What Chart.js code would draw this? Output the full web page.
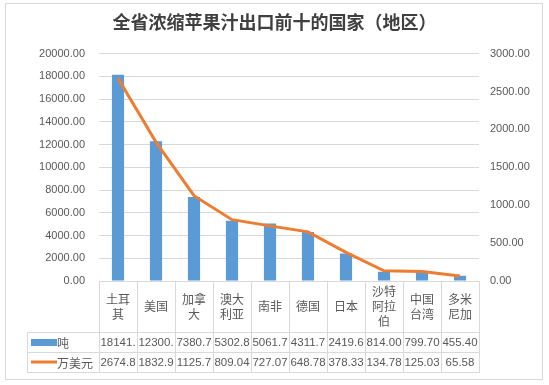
<!DOCTYPE html>
<html>
<head>
<meta charset="utf-8">
<script src="https://cdn.jsdelivr.net/npm/chart.js@4/dist/chart.umd.min.js"></script>
<style>
  html, body { margin: 0; padding: 0; background: #fff; }
  canvas { display: block; }
</style>
</head>
<body>
<canvas id="c" width="549" height="385"></canvas>
<script>
// 数据
const countries = [['土耳', '其'], ['美国'], ['加拿', '大'], ['澳大', '利亚'], ['南非'], ['德国'], ['日本'], ['沙特', '阿拉', '伯'], ['中国', '台湾'], ['多米', '尼加']];
const tons = [18141.0, 12300.0, 7380.7, 5302.8, 5061.7, 4311.7, 2419.6, 814.00, 799.70, 455.40];
const usd = [2674.8, 1832.9, 1125.7, 809.04, 727.07, 648.78, 378.33, 134.78, 125.03, 65.58];
const seriesNames = ['吨', '万美元'];
const titleText = '全省浓缩苹果汁出口前十的国家（地区）';

const blue = '#5B9BD5';
const orange = '#ED7D31';
const gridColor = '#D9D9D9';
const textColor = '#595959';
const latin = '"Liberation Sans", "Noto Sans CJK SC", sans-serif';
const cjk = '"Noto Sans CJK SC", "Liberation Sans", sans-serif';

Chart.defaults.font.family = latin;
Chart.defaults.color = textColor;

// 外框 + 数据表
const tablePlugin = {
  id: 'dataTable',
  beforeDraw(chart) {
    const ctx = chart.ctx;
    ctx.save();
    ctx.strokeStyle = gridColor;
    ctx.lineWidth = 1;
    ctx.strokeRect(5.5, 3.5, 537, 376);
    ctx.restore();
  },
  afterDraw(chart) {
    const ctx = chart.ctx;
    const area = chart.chartArea;
    const n = countries.length;
    const colW = (area.right - area.left) / n;
    const top = area.bottom;
    const headBottom = top + 51;
    const row1 = headBottom + 20;
    const row2 = row1 + 20;
    const legendLeft = 27;

    ctx.save();
    ctx.strokeStyle = gridColor;
    ctx.lineWidth = 1;
    const line = (x1, y1, x2, y2) => {
      ctx.beginPath();
      ctx.moveTo(Math.round(x1) + 0.5, Math.round(y1) + 0.5);
      ctx.lineTo(Math.round(x2) + 0.5, Math.round(y2) + 0.5);
      ctx.stroke();
    };
    line(area.left, top, area.right, top);
    [headBottom, row1, row2].forEach(y => line(legendLeft, y, area.right, y));
    line(legendLeft, headBottom, legendLeft, row2);
    for (let i = 0; i <= n; i++) {
      const x = area.left + i * colW;
      line(x, top, x, row2);
    }

    ctx.fillStyle = textColor;
    ctx.textAlign = 'center';
    ctx.textBaseline = 'middle';

    // 分类标签
    ctx.font = '12px ' + cjk;
    const headMid = (top + headBottom) / 2;
    countries.forEach((lines, i) => {
      const cx = area.left + (i + 0.5) * colW;
      const y0 = headMid - (lines.length - 1) * 15 / 2;
      lines.forEach((t, k) => ctx.fillText(t, cx, y0 + k * 15));
    });

    // 数值
    ctx.font = '11.5px ' + latin;
    const rows = [tons, usd];
    const mids = [(headBottom + row1) / 2, (row1 + row2) / 2];
    rows.forEach((vals, r) => {
      vals.forEach((v, i) => {
        const cx = area.left + (i + 0.5) * colW;
        ctx.fillText(v.toFixed(2).slice(0, 6), cx, mids[r] + 1);
      });
    });

    // 图例键
    ctx.fillStyle = blue;
    ctx.fillRect(31, mids[0] - 3, 26, 7);
    ctx.strokeStyle = orange;
    ctx.lineWidth = 3;
    ctx.beginPath();
    ctx.moveTo(31, mids[1]);
    ctx.lineTo(57, mids[1]);
    ctx.stroke();
    ctx.fillStyle = textColor;
    ctx.textAlign = 'left';
    ctx.font = '12px ' + cjk;
    ctx.fillText(seriesNames[0], 57, mids[0] + 1);
    ctx.fillText(seriesNames[1], 57, mids[1] + 1);
    ctx.restore();
  }
};

new Chart(document.getElementById('c'), {
  type: 'bar',
  data: {
    labels: countries,
    datasets: [
      {
        type: 'line',
        label: seriesNames[1],
        data: usd,
        yAxisID: 'y1',
        borderColor: orange,
        backgroundColor: orange,
        borderWidth: 3,
        pointRadius: 0,
        tension: 0,
        order: 0
      },
      {
        label: seriesNames[0],
        data: tons,
        yAxisID: 'y',
        backgroundColor: blue,
        barPercentage: 0.32,
        categoryPercentage: 1,
        order: 1
      }
    ]
  },
  options: {
    responsive: false,
    animation: false,
    layout: { padding: { left: 0, right: 0, top: 0, bottom: 104 } },
    plugins: {
      legend: { display: false },
      tooltip: { enabled: false },
      title: {
        display: true,
        text: titleText,
        color: '#404040',
        font: { family: cjk, size: 18, weight: 'bold' },
        padding: { top: 11, bottom: 21 }
      }
    },
    scales: {
      x: { display: false },
      y: {
        position: 'left',
        min: 0,
        max: 20000,
        ticks: {
          stepSize: 2000,
          padding: 14,
          color: textColor,
          font: { size: 11 },
          callback: v => v.toFixed(2)
        },
        grid: { color: gridColor, drawTicks: false },
        border: { display: false },
        afterFit: s => { s.width = 99; }
      },
      y1: {
        position: 'right',
        min: 0,
        max: 3000,
        ticks: {
          stepSize: 500,
          padding: 11,
          color: textColor,
          font: { size: 11 },
          callback: v => v.toFixed(2)
        },
        grid: { display: false, drawTicks: false },
        border: { display: false },
        afterFit: s => { s.width = 70; }
      }
    }
  },
  plugins: [tablePlugin]
});
</script>
</body>
</html>
